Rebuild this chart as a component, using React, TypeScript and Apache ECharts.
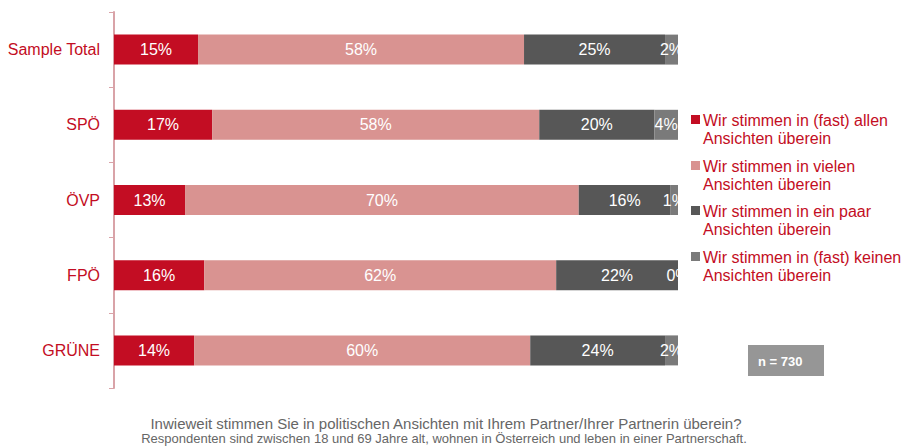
import React, { useEffect, useRef } from "react";
import * as echarts from "echarts";

const categories = ["Sample Total", "SPÖ", "ÖVP", "FPÖ", "GRÜNE"];
const seriesNames = [
  "Wir stimmen in (fast) allen\nAnsichten überein",
  "Wir stimmen in vielen\nAnsichten überein",
  "Wir stimmen in ein paar\nAnsichten überein",
  "Wir stimmen in (fast) keinen\nAnsichten überein",
];
const allen = [14.9, 17.4, 12.6, 16.0, 14.2];
const vielen = [57.8, 58.0, 69.8, 62.4, 59.6];
const paar = [25.0, 20.4, 16.3, 21.6, 23.9];
const keinen = [2.3, 4.2, 1.3, 0.0, 2.3];
const colors = ["#C30D23", "#D99391", "#575757", "#7A7A7A"];
const sampleNote = "n = 730";
const footnote1 = "Inwieweit stimmen Sie in politischen Ansichten mit Ihrem Partner/Ihrer Partnerin überein?";
const footnote2 = "Respondenten sind zwischen 18 und 69 Jahre alt, wohnen in Österreich und leben in einer Partnerschaft.";

const FONT = "'Liberation Sans', Arial, sans-serif";

export default function App() {
  const ref = useRef<HTMLDivElement>(null);
  useEffect(() => {
    if (!ref.current) return;
    const chart = echarts.init(ref.current, undefined, { renderer: "svg" });
    const data = [allen, vielen, paar, keinen];
    const series = data.map((vals, i) => ({
      name: seriesNames[i],
      type: "bar",
      stack: "total",
      barWidth: 30,
      data: vals,
      itemStyle: { color: colors[i] },
      label: {
        show: true,
        position: "inside",
        color: "#FFFFFF",
        fontFamily: FONT,
        fontSize: 16,
        formatter: (p: any) => Math.round(p.value) + "%",
      },
      emphasis: { disabled: true },
    }));
    const legendGraphics: any[] = [];
    const legendTops = [111, 157, 202, 248];
    seriesNames.forEach((name, i) => {
      legendGraphics.push({
        type: "rect",
        shape: { x: 691, y: legendTops[i] + 4, width: 9, height: 9 },
        style: { fill: colors[i] },
        z: 100,
      });
      legendGraphics.push({
        type: "text",
        x: 703,
        y: legendTops[i],
        style: {
          text: name,
          fill: "#C30D23",
          font: `16px ${FONT}`,
          lineHeight: 18,
          textVerticalAlign: "top",
        },
        z: 100,
      });
    });
    chart.setOption({
      animation: false,
      grid: { left: 114, top: 12, right: 227, bottom: 60, containLabel: false },
      xAxis: {
        type: "value",
        min: 0,
        max: 100,
        show: false,
      },
      yAxis: {
        type: "category",
        data: categories,
        inverse: true,
        axisLine: { show: true, lineStyle: { color: "#D9A3A8", width: 2 } },
        axisTick: { show: true, length: 5, lineStyle: { color: "#D9A3A8", width: 1 } },
        axisLabel: { color: "#C30D23", fontSize: 16, fontFamily: FONT, margin: 14 },
      },
      series,
      graphic: [
        {
          type: "rect",
          shape: { x: 679, y: 0, width: 10, height: 400 },
          style: { fill: "#FFFFFF" },
          z: 90,
        },
        ...legendGraphics,
        {
          type: "rect",
          shape: { x: 748, y: 345, width: 76, height: 31 },
          style: { fill: "#969696" },
          z: 100,
        },
        {
          type: "text",
          x: 758,
          y: 361,
          style: {
            text: sampleNote,
            fill: "#FFFFFF",
            font: `bold 13px ${FONT}`,
            textVerticalAlign: "middle",
          },
          z: 101,
        },
        {
          type: "text",
          x: 446,
          y: 423,
          style: {
            text: footnote1,
            fill: "#666666",
            font: `15px ${FONT}`,
            textAlign: "center",
            textVerticalAlign: "middle",
          },
        },
        {
          type: "text",
          x: 444,
          y: 438,
          style: {
            text: footnote2,
            fill: "#666666",
            font: `13px ${FONT}`,
            textAlign: "center",
            textVerticalAlign: "middle",
          },
        },
      ],
    });
    return () => chart.dispose();
  }, []);
  return <div ref={ref} style={{ width: 905, height: 448, position: "absolute", left: 0, top: 0 }} />;
}
